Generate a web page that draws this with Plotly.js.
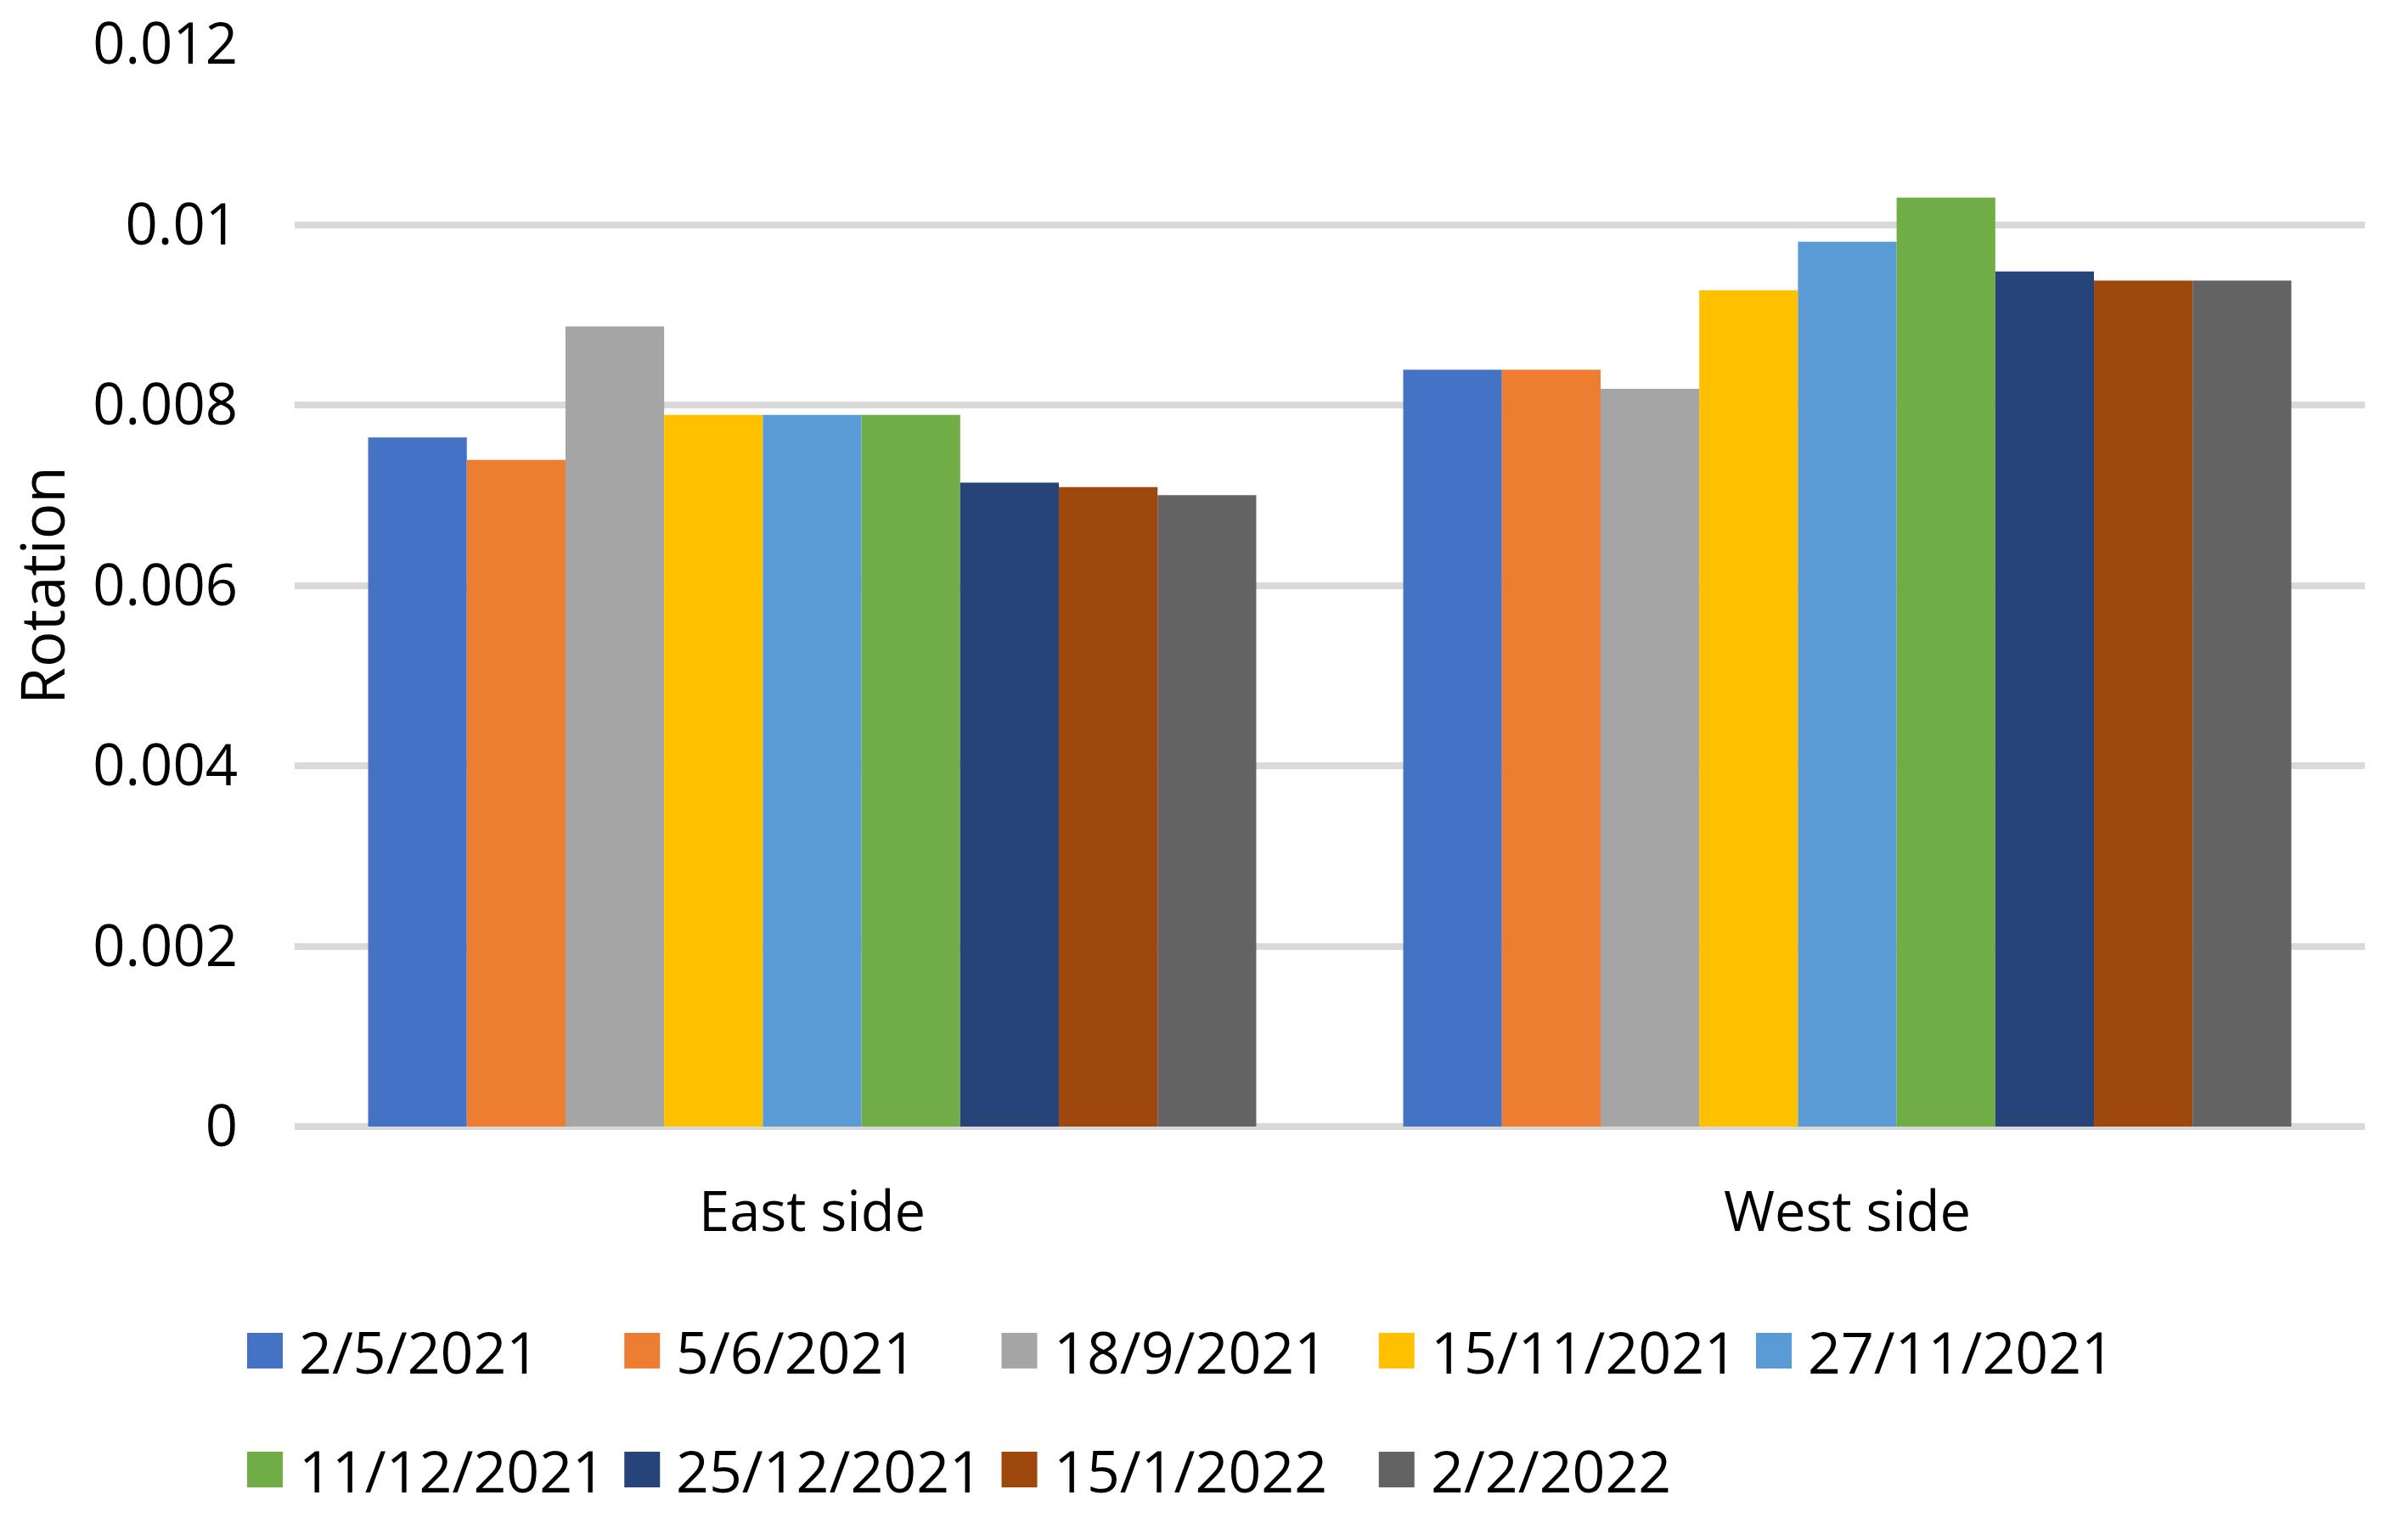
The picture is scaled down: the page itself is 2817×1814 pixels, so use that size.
<!DOCTYPE html>
<html>
<head>
<meta charset="utf-8">
<script src="https://cdn.plot.ly/plotly-3.0.1.min.js"></script>
<style>html,body{margin:0;padding:0;background:#fff;}#chart{width:2817px;height:1814px;}</style>
</head>
<body>
<div id="chart"></div>
<script>
// ---- data ----
const categories = ["East side", "West side"];
const dates = ["2/5/2021", "5/6/2021", "18/9/2021", "15/11/2021", "27/11/2021",
               "11/12/2021", "25/12/2021", "15/1/2022", "2/2/2022"];
const s_2_5_2021   = [0.00764, 0.00839];
const s_5_6_2021   = [0.00739, 0.00839];
const s_18_9_2021  = [0.00887, 0.00818];
const s_15_11_2021 = [0.00789, 0.00927];
const s_27_11_2021 = [0.00789, 0.00981];
const s_11_12_2021 = [0.00789, 0.01030];
const s_25_12_2021 = [0.00714, 0.00948];
const s_15_1_2022  = [0.00709, 0.00938];
const s_2_2_2022   = [0.00700, 0.00938];
const seriesValues = [s_2_5_2021, s_5_6_2021, s_18_9_2021, s_15_11_2021, s_27_11_2021,
                      s_11_12_2021, s_25_12_2021, s_15_1_2022, s_2_2_2022];
const yTickVals = [0, 0.002, 0.004, 0.006, 0.008, 0.01, 0.012];
const yTickText = ["0", "0.002", "0.004", "0.006", "0.008", "0.01", "0.012"];

// ---- styles ----
const colors = ["#4472C4", "#ED7D31", "#A5A5A5", "#FFC000", "#5B9BD5",
                "#70AD47", "#264478", "#9E480E", "#636363"];
const FONT = "Open Sans, Noto Sans, sans-serif";
const FS_TICK = 67, FS_CAT = 65, FS_TITLE = 71, FS_LEG = 68;

// ---- layout geometry (pixels) ----
const W = 2817, H = 1814;
const plotL = 347, plotR = 2785, plotT = 52, plotB = 1327;
const legendCol0 = 291, legendColStep = 444.25, legendRowY = [1591, 1731];
const legendPerRow = 5, legendBox = 42, legendTextGap = 17;

const pxX = px => (px - plotL) / (plotR - plotL);
const pxY = py => (plotB - py) / (plotB - plotT);

const traces = dates.map((d, i) => ({
  type: "bar",
  name: d,
  x: categories,
  y: seriesValues[i],
  marker: {color: colors[i], line: {width: 0}},
  showlegend: false,
  hoverinfo: "x+y+name"
}));

const shapes = [];
const annotations = [];
dates.forEach((d, i) => {
  const row = Math.floor(i / legendPerRow);
  const col = i % legendPerRow;
  const x0 = legendCol0 + col * legendColStep;
  const cy = legendRowY[row];
  shapes.push({
    type: "rect", xref: "paper", yref: "paper",
    x0: pxX(x0), x1: pxX(x0 + legendBox),
    y0: pxY(cy + legendBox / 2), y1: pxY(cy - legendBox / 2),
    fillcolor: colors[i], line: {width: 0}
  });
  annotations.push({
    xref: "paper", yref: "paper",
    x: pxX(x0 + legendBox + legendTextGap), y: pxY(cy),
    xanchor: "left", yanchor: "middle",
    text: d, showarrow: false,
    font: {family: FONT, size: FS_LEG, color: "#000"}
  });
});

const layout = {
  width: W, height: H,
  margin: {l: plotL, r: W - plotR, t: plotT, b: H - plotB, pad: 0},
  paper_bgcolor: "#fff", plot_bgcolor: "#fff",
  font: {family: FONT, size: FS_TICK, color: "#000"},
  barmode: "group",
  bargap: 0.142,
  bargroupgap: 0,
  showlegend: false,
  xaxis: {
    type: "category",
    showgrid: false, showline: false, zeroline: false,
    ticks: "", ticklabelstandoff: 57,
    tickfont: {family: FONT, size: FS_CAT, color: "#000"},
    fixedrange: true
  },
  yaxis: {
    range: [0, 0.012],
    tickvals: yTickVals, ticktext: yTickText,
    showgrid: true, gridcolor: "#d9d9d9", gridwidth: 8,
    zeroline: true, zerolinecolor: "#d9d9d9", zerolinewidth: 8,
    showline: false, ticks: "", ticklabelstandoff: 66,
    tickfont: {family: FONT, size: FS_TICK, color: "#000"},
    title: {text: "Rotation", font: {family: FONT, size: FS_TITLE, color: "#000"}, standoff: 40},
    automargin: false,
    fixedrange: true
  },
  shapes: shapes,
  annotations: annotations
};

Plotly.newPlot("chart", traces, layout, {displayModeBar: false, staticPlot: true});
</script>
</body>
</html>
